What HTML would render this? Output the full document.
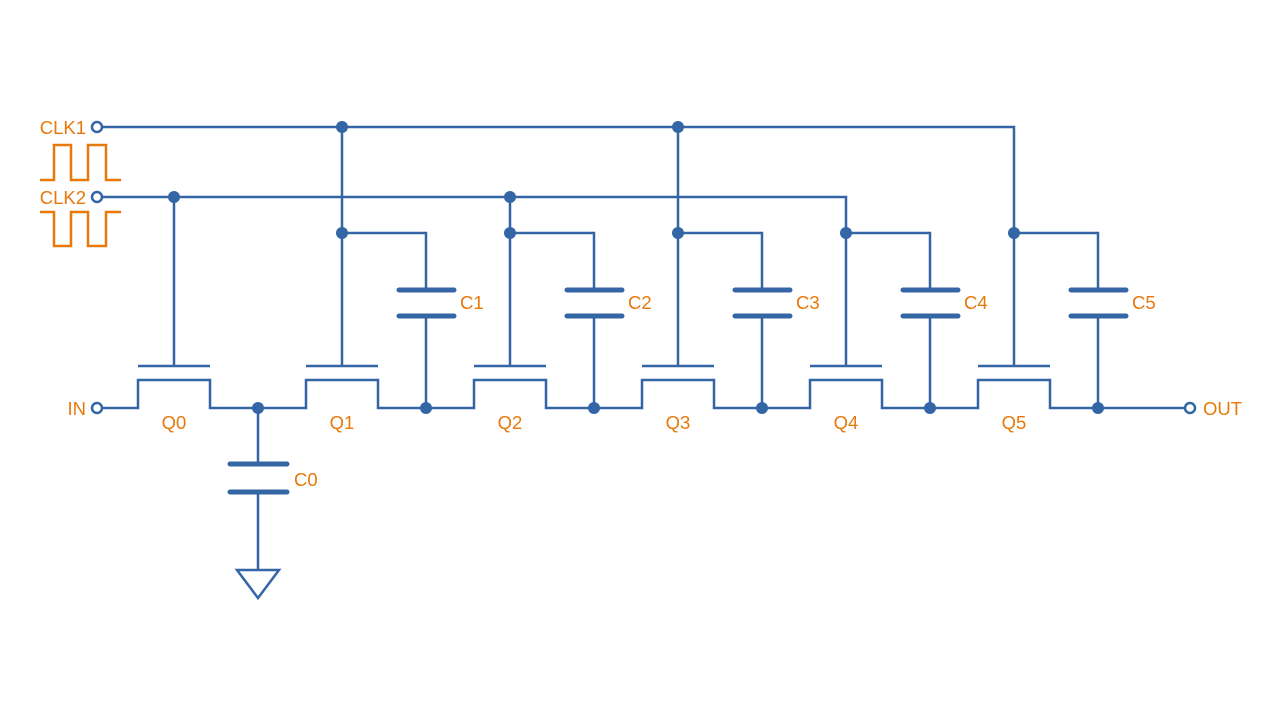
<!DOCTYPE html>
<html><head><meta charset="utf-8"><style>
html,body{margin:0;padding:0;background:#fff;width:1280px;height:720px;overflow:hidden}
text{font-family:"Liberation Sans",sans-serif;font-size:18.5px;fill:#e8780a}
</style></head><body>
<svg width="1280" height="720" viewBox="0 0 1280 720" xmlns="http://www.w3.org/2000/svg">
<g stroke="#3465a4" stroke-width="2.5" fill="none">
<path d="M102 127 H1014 V366"/>
<path d="M342 127 V366 M678 127 V366"/>
<path d="M102 197 H846 V366"/>
<path d="M174 197 V366 M510 197 V366"/>
<path d="M342 233 H426 V290 M510 233 H594 V290 M678 233 H762 V290 M846 233 H930 V290 M1014 233 H1098 V290"/>
<path d="M426 316 V408 M594 316 V408 M762 316 V408 M930 316 V408 M1098 316 V408"/>
<path d="M138 366 H210 M306 366 H378 M474 366 H546 M642 366 H714 M810 366 H882 M978 366 H1050"/>
<path d="M102 408 H138 V380 H210 V408 H306 V380 H378 V408 H474 V380 H546 V408 H642 V380 H714 V408 H810 V380 H882 V408 H978 V380 H1050 V408 H1185"/>
<path d="M258 408 V464 M258 492 V570"/>
<path d="M237 570 H279 L258 598 Z"/>
</g>
<g stroke="#3465a4" stroke-width="5" stroke-linecap="round">
<path d="M230 464 H287 M230 492 H287"/>
<path d="M399 290 H454 M399 316 H454"/>
<path d="M567 290 H622 M567 316 H622"/>
<path d="M735 290 H790 M735 316 H790"/>
<path d="M903 290 H958 M903 316 H958"/>
<path d="M1071 290 H1126 M1071 316 H1126"/>
</g>
<g fill="#3465a4">
<circle cx="342" cy="127" r="6"/><circle cx="678" cy="127" r="6"/>
<circle cx="174" cy="197" r="6"/><circle cx="510" cy="197" r="6"/>
<circle cx="342" cy="233" r="6"/><circle cx="510" cy="233" r="6"/><circle cx="678" cy="233" r="6"/><circle cx="846" cy="233" r="6"/><circle cx="1014" cy="233" r="6"/>
<circle cx="258" cy="408" r="6"/><circle cx="426" cy="408" r="6"/><circle cx="594" cy="408" r="6"/><circle cx="762" cy="408" r="6"/><circle cx="930" cy="408" r="6"/><circle cx="1098" cy="408" r="6"/>
</g>
<g fill="#fff" stroke="#3465a4" stroke-width="2.5">
<circle cx="97" cy="127" r="5"/><circle cx="97" cy="197" r="5"/><circle cx="97" cy="408" r="5"/><circle cx="1190" cy="408" r="5"/>
</g>
<g stroke="#e8780a" stroke-width="2.5" fill="none">
<path d="M40 180 H54 V145 H71 V180 H88 V145 H106 V180 H121"/>
<path d="M40 212 H54 V246 H71 V212 H88 V246 H106 V212 H121"/>
</g>
<text x="86" y="134" text-anchor="end">CLK1</text>
<text x="86" y="204" text-anchor="end">CLK2</text>
<text x="86" y="415" text-anchor="end">IN</text>
<text x="1203" y="415">OUT</text>
<g text-anchor="middle">
<text x="174" y="429">Q0</text><text x="342" y="429">Q1</text><text x="510" y="429">Q2</text><text x="678" y="429">Q3</text><text x="846" y="429">Q4</text><text x="1014" y="429">Q5</text>
</g>
<text x="294" y="486">C0</text>
<text x="460" y="309">C1</text><text x="628" y="309">C2</text><text x="796" y="309">C3</text><text x="964" y="309">C4</text><text x="1132" y="309">C5</text>
</svg>
</body></html>
